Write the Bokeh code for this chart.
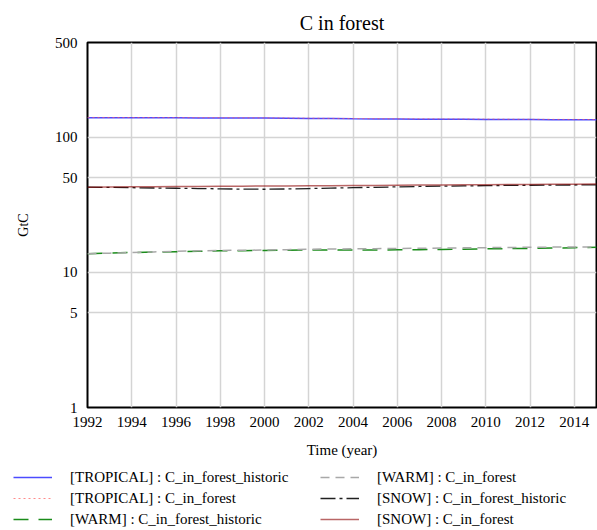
from bokeh.plotting import figure
from bokeh.models import FixedTicker, NumeralTickFormatter, Legend, LegendItem, Range1d
from bokeh.embed import file_html
from bokeh.resources import INLINE

# Annual carbon stock in forest (GtC), 1992-2015
years = list(range(1992, 2016))

tropical_historic = [139.0, 138.9, 138.8, 138.7, 138.6, 138.5, 138.4, 138.2, 138.0, 137.6, 137.2, 136.8,
                     136.4, 136.1, 135.9, 135.6, 135.4, 135.2, 135.0, 134.8, 134.6, 134.4, 134.2, 134.0]
tropical_forest = [139.6, 139.5, 139.4, 139.3, 139.2, 139.1, 139.0, 138.8, 138.6, 138.2, 137.8, 137.4,
                   137.1, 136.8, 136.5, 136.3, 136.1, 135.9, 135.7, 135.5, 135.3, 135.1, 134.9, 134.7]
warm_historic = [13.7, 13.85, 14.0, 14.1, 14.2, 14.3, 14.4, 14.45, 14.5, 14.55, 14.6, 14.6,
                 14.6, 14.6, 14.65, 14.7, 14.75, 14.8, 14.9, 14.95, 15.0, 15.1, 15.2, 15.3]
warm_forest = [13.7, 13.85, 14.0, 14.15, 14.3, 14.4, 14.5, 14.55, 14.6, 14.7, 14.8, 14.85,
               14.9, 14.95, 15.0, 15.05, 15.1, 15.15, 15.2, 15.25, 15.3, 15.35, 15.4, 15.4]
snow_historic = [42.6, 42.4, 42.2, 42.0, 41.8, 41.6, 41.4, 41.2, 41.1, 41.3, 41.6, 41.9,
                 42.2, 42.5, 42.8, 43.1, 43.3, 43.5, 43.7, 43.9, 44.0, 44.1, 44.2, 44.3]
snow_forest = [42.6, 42.7, 42.8, 42.9, 43.0, 43.1, 43.2, 43.3, 43.4, 43.5, 43.6, 43.7,
               43.8, 43.9, 44.0, 44.1, 44.2, 44.3, 44.4, 44.5, 44.6, 44.7, 44.8, 44.9]

labels = ["[TROPICAL] : C_in_forest_historic", "[TROPICAL] : C_in_forest",
          "[WARM] : C_in_forest_historic", "[WARM] : C_in_forest",
          "[SNOW] : C_in_forest_historic", "[SNOW] : C_in_forest"]

x_ticks = list(range(1992, 2015, 2))
y_ticks = [1, 5, 10, 50, 100, 500]

SERIF = "Liberation Serif"

# line styles per series, shared by the chart and its key
styles = [
    dict(line_color="#4b4bff", line_width=1.5),
    dict(line_color="#ff5a5a", line_width=1.0, line_dash="2 3", line_alpha=0.7),
    dict(line_color="#1a8c1a", line_width=1.5, line_dash="15 10"),
    dict(line_color="#a8a8a8", line_width=1.5, line_dash="9 6"),
    dict(line_color="#202020", line_width=1.3, line_dash="15 4 3 4"),
    dict(line_color="#8b0000", line_width=1.5, line_alpha=0.6),
]
series = [tropical_historic, tropical_forest, warm_historic, warm_forest, snow_historic, snow_forest]

p = figure(width=597, height=460, y_axis_type="log", output_backend="svg", toolbar_location=None,
           x_range=Range1d(1992, 2015), y_range=Range1d(1, 500),
           min_border_left=87, min_border_right=1, min_border_top=41, min_border_bottom=53,
           title="C in forest")
p.title.text_font = SERIF
p.title.text_font_size = "20px"
p.title.text_font_style = "normal"
p.title.align = "center"
p.title.text_color = "black"
p.title.standoff = 18

p.outline_line_color = "black"
p.outline_line_width = 2
p.outline_line_alpha = 1

for ax in (p.xaxis[0], p.yaxis[0]):
    ax.axis_line_color = None
    ax.major_tick_line_color = None
    ax.minor_tick_line_color = None
    ax.major_label_text_font = SERIF
    ax.major_label_text_font_size = "15px"
    ax.major_label_text_color = "black"
    ax.axis_label_text_font = SERIF
    ax.axis_label_text_font_style = "normal"
    ax.axis_label_text_color = "black"

p.xaxis.ticker = FixedTicker(ticks=x_ticks)
p.xaxis.axis_label = "Time (year)"
p.xaxis.axis_label_text_font_size = "15px"
p.xaxis.major_label_standoff = 3
p.xaxis.axis_label_standoff = 12

p.yaxis.ticker = FixedTicker(ticks=y_ticks)
p.yaxis.formatter = NumeralTickFormatter(format="0")
p.yaxis.axis_label = "GtC"
p.yaxis.axis_label_text_font_size = "14px"
p.yaxis.major_label_standoff = 4
p.yaxis.axis_label_standoff = 21

p.xgrid.ticker = FixedTicker(ticks=x_ticks)
p.ygrid.ticker = FixedTicker(ticks=y_ticks)
for g in (p.xgrid[0], p.ygrid[0]):
    g.grid_line_color = "#d4d4d4"
    g.grid_line_width = 1.5
    g.minor_grid_line_color = None

for vals, st in zip(series, styles):
    p.line(years, vals, **st)

# key strip below the chart: same series, ranges chosen so only the key shows
k = figure(width=597, height=70, output_backend="svg", toolbar_location=None,
           x_range=Range1d(0, 1), y_range=Range1d(0, 1),
           x_axis_location=None, y_axis_location=None,
           min_border_left=0, min_border_right=0, min_border_top=0, min_border_bottom=0)
k.outline_line_color = None
k.xgrid.visible = False
k.ygrid.visible = False
key_renderers = [k.line(years, vals, **st) for vals, st in zip(series, styles)]


def make_legend(idx, x):
    return Legend(items=[LegendItem(label=labels[i], renderers=[key_renderers[i]]) for i in idx],
                  location=(x, 1), orientation="vertical",
                  padding=0, margin=0, spacing=1, glyph_width=39, glyph_height=20,
                  label_height=20, label_standoff=18,
                  label_text_font=SERIF, label_text_font_size="15px", label_text_color="black",
                  border_line_alpha=0, background_fill_alpha=0)


k.add_layout(make_legend([0, 1, 2], 13), "center")
k.add_layout(make_legend([3, 4, 5], 320), "center")

open("out.html", "w").write(file_html([p, k], INLINE))
